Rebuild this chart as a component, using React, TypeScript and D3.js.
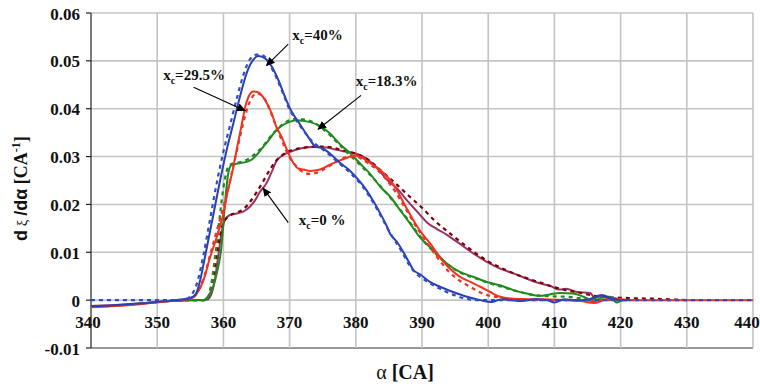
import React from "react";
import * as d3 from "d3";

type Pt = [number, number];

// Heat release rate curves: measured (solid) and model (dashed) per charge fraction xc
const xc40Measured: Pt[] = [
  [340, -0.0012], [343, -0.0011], [346, -0.0008], [349, -0.0005], [352, -0.0001], [354, 0.0002],
  [355, 0.0005], [355.5, 0.0008], [356, 0.0018], [356.5, 0.0042], [357, 0.0075], [357.5, 0.011],
  [358.5, 0.018], [359.5, 0.025], [360.5, 0.0314], [361.5, 0.0369], [362.5, 0.0425], [363.5, 0.0474],
  [364.5, 0.0502], [365.3, 0.051], [366.3, 0.0505], [367.3, 0.0488], [368.3, 0.046], [369.3, 0.0425],
  [370.3, 0.0394], [371.3, 0.0373], [372.3, 0.0352], [373.1, 0.0335], [373.8, 0.0322], [375, 0.0317],
  [376.2, 0.0305], [377.6, 0.0287], [379, 0.0272], [380.6, 0.0248], [381.5, 0.0232], [382.6, 0.0208],
  [383.7, 0.0181], [384.5, 0.016], [385.2, 0.0138], [386.2, 0.0122], [387.2, 0.01], [388, 0.008],
  [388.7, 0.0063], [389.7, 0.0054], [391.2, 0.0038], [392.7, 0.0028], [394.7, 0.0017], [396.8, 0.0007],
  [398.8, 0.0], [400.5, -0.0004], [402, 0.0002], [403.5, 0.0], [405, -0.0002], [407, 0.0002],
  [409, 0.0], [410, -0.0005], [411.5, 0.0002], [413, 0.0], [415, 0.0001], [417, 0.001],
  [418.5, 0.0004], [420, 0.0], [421, 0],
];

const xc40Model: Pt[] = [
  [340, 0], [354, 0], [355, 0.0008], [356, 0.0035], [357, 0.0095], [358, 0.017], [359, 0.0245],
  [360, 0.031], [361, 0.0365], [362, 0.042], [363, 0.047], [364, 0.0503], [365, 0.0513], [366, 0.0511],
  [367, 0.0492], [368, 0.0465], [369, 0.0432], [370, 0.0398], [371, 0.0376], [372, 0.0356], [373, 0.0338],
  [374, 0.0325], [375, 0.0315], [376, 0.0304], [377, 0.0292], [378, 0.028], [379, 0.0268], [380, 0.0254],
  [381, 0.0238], [382, 0.0218], [383, 0.0195], [384, 0.017], [385, 0.0145], [386, 0.0122], [387, 0.01],
  [388, 0.0075], [389, 0.0057], [390, 0.0046], [391, 0.0037], [392, 0.0029], [393, 0.0022], [394, 0.0015],
  [395, 0.001], [396, 0.0005], [397, 0.0002], [398, 0], [440, 0],
];

const xc295Measured: Pt[] = [
  [340, -0.0015], [343, -0.0013], [346, -0.001], [349, -0.0006], [352, -0.0002], [354, 0.0001],
  [355, 0.0003], [355.5, 0.0006], [356, 0.0014], [357, 0.0042], [358, 0.009], [359, 0.0132],
  [360, 0.0181], [360.7, 0.023], [361.3, 0.0265], [362, 0.0314], [362.8, 0.0369], [363.3, 0.0404],
  [363.8, 0.0425], [364.5, 0.0436], [365.3, 0.0434], [366.3, 0.0418], [367.3, 0.039], [368, 0.0362],
  [368.8, 0.0341], [369.6, 0.0314], [370.6, 0.0286], [371.3, 0.0275], [372.1, 0.0273], [373.1, 0.027],
  [374.6, 0.0273], [376.1, 0.0283], [377.6, 0.0292], [378.6, 0.0297], [379.6, 0.0302], [380.6, 0.03],
  [382.1, 0.0287], [383.7, 0.0272], [385.2, 0.0251], [386.2, 0.023], [387.2, 0.0204], [388.7, 0.0167],
  [389.7, 0.0145], [391.2, 0.0119], [392.7, 0.009], [394.2, 0.0066], [395.7, 0.0049], [397.3, 0.0038],
  [398.8, 0.0028], [400.3, 0.0017], [401.8, 0.0007], [403.8, 0.0003], [406, 0.0002], [408, 0.0002],
  [410, 0.0001], [412, 0.0], [414, -0.0002], [416, -0.0006], [417.5, 0.0], [418.5, 0.0005],
  [420, 0.0002], [422, 0], [440, 0],
];

const xc295Model: Pt[] = [
  [352, 0], [355, 0.0003], [356, 0.0015], [357, 0.0045], [358, 0.0095], [359, 0.0145], [360, 0.0195],
  [361, 0.025], [362, 0.031], [363, 0.037], [364, 0.0415], [365, 0.0432], [366, 0.0425], [367, 0.0398],
  [368, 0.0362], [369, 0.0328], [370, 0.0298], [371, 0.028], [372, 0.0268], [373, 0.0264], [374, 0.0266],
  [375, 0.0272], [376, 0.028], [377, 0.0289], [378, 0.0296], [379, 0.03], [380, 0.03], [381, 0.0294],
  [382, 0.0285], [383, 0.0275], [384, 0.0262], [385, 0.0245], [386, 0.0226], [387, 0.0203], [388, 0.018],
  [389, 0.0156], [390, 0.0135], [391, 0.0115], [392, 0.0095], [393, 0.0077], [394, 0.006], [395, 0.0048],
  [396, 0.0038], [397, 0.003], [398, 0.0022], [399, 0.0015], [400, 0.001], [402, 0.0005], [404, 0.0002],
  [406, 0], [420, 0],
];

const xc183Measured: Pt[] = [
  [340, -0.0013], [343, -0.0012], [346, -0.0009], [349, -0.0005], [352, -0.0002], [354, 0], [357, 0],
  [357.5, 0.0005], [358, 0.0015], [358.5, 0.003], [359, 0.0056], [359.7, 0.0111], [360.2, 0.0195],
  [360.7, 0.0262], [361.2, 0.0282], [362.3, 0.0286], [363.5, 0.0289], [364.3, 0.0294], [365, 0.0303],
  [366, 0.032], [366.5, 0.0328], [368, 0.0355], [369, 0.0366], [370.1, 0.0373], [371.1, 0.0376],
  [372, 0.0375], [373.1, 0.0372], [374.6, 0.0364], [376.1, 0.0348], [377.6, 0.0326], [379.1, 0.0308],
  [380.6, 0.0286], [382.1, 0.0265], [383.7, 0.0237], [385.2, 0.0216], [386.7, 0.0188], [388.2, 0.016],
  [389.7, 0.0131], [390.7, 0.0117], [391.7, 0.0105], [393.7, 0.0077], [395.7, 0.0059], [397.7, 0.0049],
  [399.8, 0.0038], [401.8, 0.0031], [403.8, 0.0021], [405.8, 0.0014], [407.8, 0.0009], [409.3, 0.0012],
  [410.8, 0.0015], [412.8, 0.0014], [414.4, 0.0007], [415.9, -0.0003], [417.4, 0.0007], [418.4, 0.0007],
  [419.4, -0.0005], [420.4, 0.0001], [422, 0],
];

const xc183Model: Pt[] = [
  [353, 0], [357.5, 0], [358, 0.002], [358.5, 0.0065], [359, 0.012], [359.5, 0.018], [360, 0.0235],
  [360.5, 0.027], [361, 0.0283], [362, 0.0287], [363, 0.029], [364, 0.0297], [365, 0.0308], [366, 0.0322],
  [367, 0.034], [368, 0.0355], [369, 0.0368], [370, 0.0376], [371, 0.0379], [372, 0.0378], [373, 0.0375],
  [374, 0.0368], [375, 0.0358], [376, 0.0346], [377, 0.0332], [378, 0.0318], [379, 0.0304], [380, 0.0291],
  [382, 0.0264], [384, 0.0234], [386, 0.0201], [388, 0.0166], [390, 0.0128], [392, 0.0098], [394, 0.0073],
  [396, 0.0056], [398, 0.0046], [400, 0.0036], [402, 0.0028], [404, 0.002], [406, 0.0013], [408, 0.0009],
  [410, 0.0008], [412, 0.0007], [414, 0.0004], [416, 0.0002], [418, 0.0001], [420, 0],
];

const xc0Measured: Pt[] = [
  [340, -0.0012], [344, -0.001], [348, -0.0007], [352, -0.0002], [355, 0], [357.5, 0.0001], [358, 0.0007],
  [358.7, 0.0042], [359.2, 0.009], [359.7, 0.0139], [360.2, 0.0166], [361, 0.0178], [362, 0.0181],
  [363, 0.0185], [364, 0.0195], [364.8, 0.0209], [365.5, 0.0226], [366.5, 0.0244], [367.3, 0.0268],
  [368, 0.029], [369, 0.0303], [370.1, 0.031], [371.6, 0.0317], [373.6, 0.032], [375.6, 0.0319],
  [377.1, 0.0314], [378.6, 0.031], [380.1, 0.0306], [381.6, 0.0296], [383.2, 0.0276], [384.7, 0.0252],
  [386.2, 0.0234], [387.7, 0.0209], [389.2, 0.0186], [390.7, 0.0163], [392.2, 0.0149], [393.7, 0.0137],
  [395.7, 0.0118], [397.7, 0.0098], [399.8, 0.008], [401.8, 0.0066], [403.8, 0.0056], [405.8, 0.0045],
  [407.8, 0.0035], [409.3, 0.003], [410.8, 0.0022], [411.8, 0.0024], [413.4, 0.0017], [415.4, 0.0015],
  [416.1, 0.0005], [417.4, 0.001], [418.4, 0.0004], [419.4, 0.0], [421, 0],
];

const xc0Model: Pt[] = [
  [353, 0], [357.5, 0], [358, 0.002], [358.5, 0.005], [359, 0.0095], [359.5, 0.0135], [360, 0.0162],
  [361, 0.0177], [362, 0.0183], [363, 0.019], [364, 0.0205], [365, 0.0225], [366, 0.0248], [367, 0.0272],
  [368, 0.0292], [369, 0.0304], [370, 0.0312], [372, 0.0318], [374, 0.0321], [376, 0.032], [378, 0.0313],
  [380, 0.0306], [382, 0.0292], [384, 0.0268], [386, 0.0244], [388, 0.0218], [390, 0.0193], [392, 0.0165],
  [394, 0.0142], [396, 0.012], [398, 0.0099], [400, 0.0081], [402, 0.0067], [404, 0.0055], [406, 0.0045],
  [408, 0.0036], [410, 0.0027], [412, 0.002], [414, 0.0015], [416, 0.0009], [418, 0.0006], [420, 0.0005],
  [422, 0.0004], [425, 0.0003], [430, 0],
];

const xTicks = [340, 350, 360, 370, 380, 390, 400, 410, 420, 430, 440];
const yTicks = [-0.01, 0, 0.01, 0.02, 0.03, 0.04, 0.05, 0.06];

const series = [
  { measured: xc0Measured, model: xc0Model, color: "#993366", modelColor: "#800000" },
  { measured: xc183Measured, model: xc183Model, color: "#1f8a1f", modelColor: "#1f8a1f" },
  { measured: xc295Measured, model: xc295Model, color: "#ee3322", modelColor: "#ee3322" },
  { measured: xc40Measured, model: xc40Model, color: "#2b3fb3", modelColor: "#2b4fc3" },
];

// Callout labels: text anchor in data units, arrow tail and head in data units
const callouts = [
  { pct: "=40%", tx: 370.4, ty: 0.0543, from: [369.8, 0.0535], to: [366.5, 0.049] },
  { pct: "=29.5%", tx: 350.9, ty: 0.0459, from: [355.5, 0.0445], to: [363.3, 0.0396] },
  { pct: "=18.3%", tx: 380.0, ty: 0.0447, from: [380.8, 0.0428], to: [374.3, 0.0357] },
  { pct: "=0 %", tx: 371.4, ty: 0.0157, from: [369.8, 0.0162], to: [366, 0.0234] },
];

const W = 760;
const H = 387;
const left = 91;
const right = 753;
const top = 13;
const bottom = 348;

export default function App() {
  const x = d3.scaleLinear().domain([340, 440]).range([left, right]);
  const y = d3.scaleLinear().domain([-0.01, 0.06]).range([bottom, top]);
  const line = d3
    .line<Pt>()
    .x((d) => x(d[0]))
    .y((d) => y(d[1]))
    .curve(d3.curveMonotoneX);

  const serif = "'Liberation Serif', 'Times New Roman', serif";
  const sans = "'Liberation Sans', Arial, sans-serif";

  return (
    <svg
      width={W}
      height={H}
      style={{ position: "absolute", left: 0, top: 0, background: "#fff" }}
    >
      <defs>
        <marker
          id="arrowHead"
          viewBox="0 0 10 10"
          refX="9"
          refY="5"
          markerWidth="9"
          markerHeight="9"
          markerUnits="userSpaceOnUse"
          orient="auto"
        >
          <path d="M0,0.5 L10,5 L0,9.5 Z" fill="#000" />
        </marker>
      </defs>

      {/* grid */}
      {yTicks.map((t) => (
        <line
          key={"gy" + t}
          x1={left}
          x2={right}
          y1={y(t)}
          y2={y(t)}
          stroke={t === -0.01 ? "#333" : "#c4c4c4"}
          strokeWidth={t === -0.01 ? 1.2 : 1.6}
        />
      ))}
      {xTicks.slice(1).map((t) => (
        <line
          key={"gx" + t}
          x1={x(t)}
          x2={x(t)}
          y1={top}
          y2={bottom}
          stroke="#c4c4c4"
          strokeWidth={1.6}
        />
      ))}

      {/* y axis */}
      <line x1={left} x2={left} y1={top} y2={bottom} stroke="#222" strokeWidth={1.2} />
      {yTicks.map((t) => (
        <line key={"ty" + t} x1={left - 5} x2={left} y1={y(t)} y2={y(t)} stroke="#222" strokeWidth={1.2} />
      ))}
      {yTicks.map((t) => (
        <text
          key={"ly" + t}
          x={80}
          y={y(t) + 6.5}
          textAnchor="end"
          fontFamily={serif}
          fontWeight="bold"
          fontSize={17}
          fill="#111"
        >
          {t === 0 ? "0" : t.toFixed(2)}
        </text>
      ))}
      {xTicks.map((t) => (
        <text
          key={"lx" + t}
          x={x(t) + (t === 340 ? -3 : t === 440 ? -6 : 0)}
          y={y(0) + 28}
          textAnchor="middle"
          fontFamily={serif}
          fontWeight="bold"
          fontSize={17}
          fill="#111"
        >
          {t}
        </text>
      ))}

      {/* curves */}
      {series.map((s, i) => (
        <g key={"s" + i}>
          <path d={line(s.measured) ?? ""} fill="none" stroke={s.color} strokeWidth={2} />
          <path
            d={line(s.model) ?? ""}
            fill="none"
            stroke={s.modelColor}
            strokeWidth={2.2}
            strokeDasharray="4,4"
          />
        </g>
      ))}

      {/* callouts */}
      {callouts.map((c, i) => (
        <g key={"c" + i}>
          <line
            x1={x(c.from[0])}
            y1={y(c.from[1])}
            x2={x(c.to[0])}
            y2={y(c.to[1])}
            stroke="#000"
            strokeWidth={1.1}
            markerEnd="url(#arrowHead)"
          />
          <text
            x={x(c.tx)}
            y={y(c.ty)}
            fontFamily={serif}
            fontWeight="bold"
            fontSize={15}
            fill="#111"
          >
            x
            <tspan fontSize={10} dy={4}>c</tspan>
            <tspan dy={-4}>{c.pct}</tspan>
          </text>
        </g>
      ))}

      {/* axis titles */}
      <text
        transform={`translate(27, ${(top + bottom) / 2 + 8}) rotate(-90)`}
        textAnchor="middle"
        fontWeight="bold"
        fontSize={18}
        fill="#111"
      >
        <tspan fontFamily={sans}>d</tspan>
        <tspan fontFamily={serif} fontWeight="normal" fontSize={15}> ξ </tspan>
        <tspan fontFamily={sans}>/dα</tspan>
        <tspan fontFamily={serif}> [CA</tspan>
        <tspan fontFamily={serif} fontSize={12} dy={-7}>-1</tspan>
        <tspan fontFamily={serif} dy={7}>]</tspan>
      </text>
      <text
        x={405}
        y={379}
        textAnchor="middle"
        fontFamily={serif}
        fontSize={20}
        fill="#111"
      >
        α <tspan fontWeight="bold">[CA]</tspan>
      </text>
    </svg>
  );
}
